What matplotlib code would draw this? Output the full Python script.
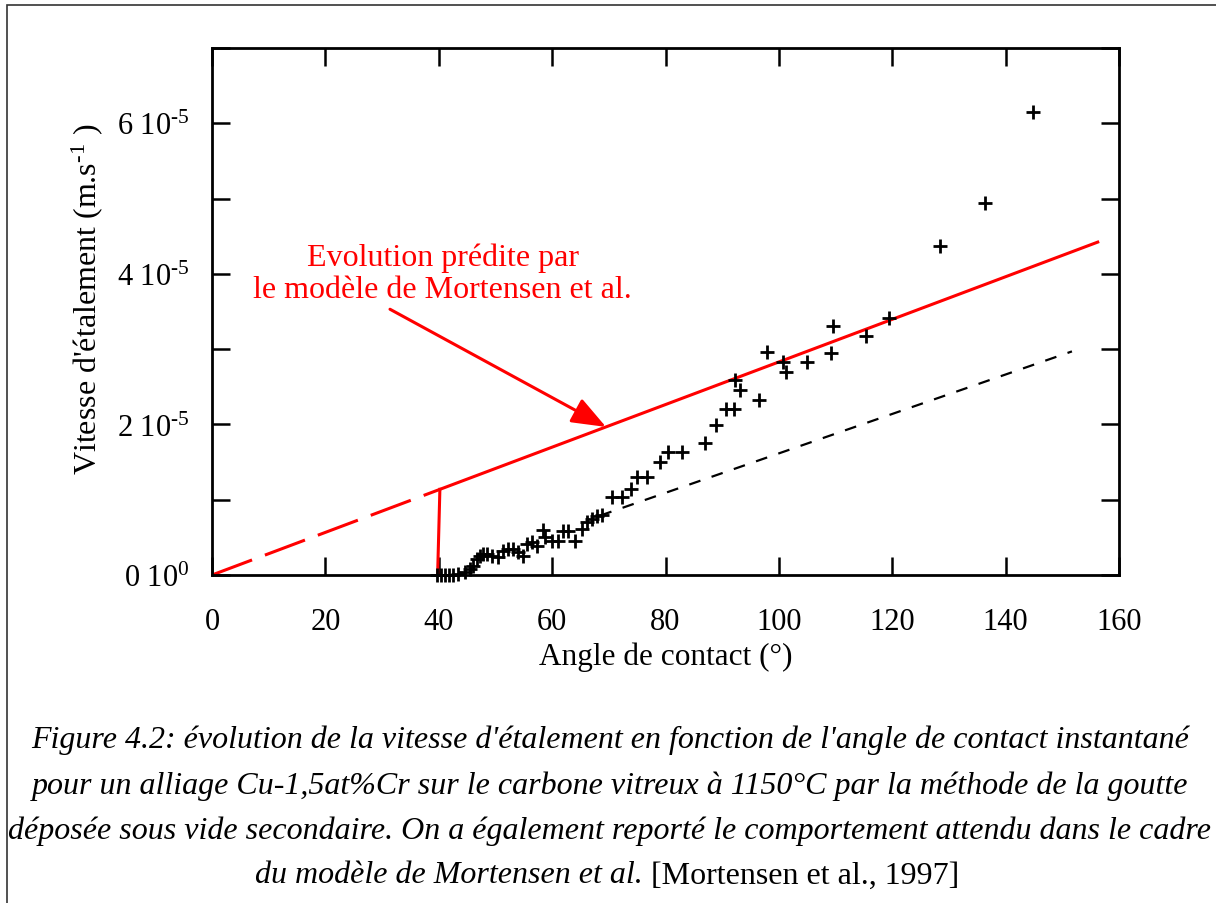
import numpy as np
import matplotlib
matplotlib.use("Agg")
import matplotlib.pyplot as plt
from matplotlib.ticker import MultipleLocator, FuncFormatter
from matplotlib.patches import Rectangle

plt.rcParams["font.family"] = ["Liberation Serif", "DejaVu Serif"]
plt.rcParams["mathtext.fontset"] = "custom"
plt.rcParams["mathtext.rm"] = "Liberation Serif"
plt.rcParams["mathtext.it"] = "Liberation Serif:italic"
plt.rcParams["mathtext.default"] = "regular"

# Measured spreading velocity vs instantaneous contact angle (velocity in 1e-5 m/s)
angle_deg = [39.7, 40.4, 41.1, 41.8, 42.5, 43.4, 44.6, 45.5, 46.0, 46.7,
             47.3, 47.8, 48.5, 49.4, 50.4, 51.3, 52.2, 53.1, 54.0, 54.9,
             55.6, 56.4, 57.3, 58.4, 58.7, 60.0, 61.0, 61.9, 62.8, 64.0,
             65.3, 66.1, 67.0, 67.9, 68.8, 70.6, 72.3, 73.9, 75.0, 76.7,
             79.0, 80.4, 82.9, 87.0, 88.9, 90.7, 92.1, 92.3, 93.1, 96.5,
             97.9, 100.7, 101.3, 105.0, 109.2, 109.5, 115.4, 119.4, 128.4,
             136.4, 144.8]
velocity_e5 = [0.00, 0.00, 0.00, 0.00, 0.00, 0.01, 0.04, 0.08, 0.12, 0.21,
               0.25, 0.28, 0.28, 0.25, 0.24, 0.32, 0.35, 0.35, 0.31, 0.25,
               0.41, 0.44, 0.38, 0.60, 0.50, 0.45, 0.45, 0.58, 0.58, 0.45,
               0.61, 0.70, 0.74, 0.78, 0.80, 1.04, 1.04, 1.14, 1.30, 1.30,
               1.50, 1.63, 1.63, 1.75, 1.99, 2.20, 2.20, 2.59, 2.46, 2.32,
               2.96, 2.83, 2.69, 2.83, 2.95, 3.31, 3.17, 3.42, 4.37,
               4.94, 6.15]

# Mortensen et al. model: velocity proportional to contact angle
model_slope = 2.83e-7          # m/s per degree
model_dashed_deg = [0.0, 40.2]
model_solid_deg = [40.2, 156.5]
threshold_deg = [40.2, 39.8]

# Linear trend through the early data
trend_deg = [68.5, 151.7]
trend_e5 = [0.79, 2.97]

x_ticks = [0, 20, 40, 60, 80, 100, 120, 140, 160]

angle = np.array(angle_deg)
velocity = np.array(velocity_e5) * 1e-5

fig = plt.figure(figsize=(12.16, 9.04), dpi=100)
W, H = 1216, 904
ax = fig.add_axes([212 / W, (H - 576) / H, (1119 - 212) / W, (576 - 49) / H])

red = "#ff0000"
md = np.array(model_dashed_deg)
ms_ = np.array(model_solid_deg)
ax.plot(md, model_slope * md, color=red, lw=2.2, dashes=(14, 4.5), clip_on=False)
ax.plot(ms_, model_slope * ms_, color=red, lw=2.2, solid_capstyle="butt", clip_on=False)
th = np.array(threshold_deg)
ax.plot(th, [model_slope * th[0], 0.0], color=red, lw=2.2, clip_on=False)

ax.plot(trend_deg, np.array(trend_e5) * 1e-5, color="black", lw=1.6,
        dashes=(5.3, 5.3))

ax.plot(angle, velocity, linestyle="none", marker="+", markersize=10,
        markeredgewidth=2.0, color="black", clip_on=False, zorder=5)

ax.set_xlim(0, 160)
ax.set_ylim(0, 7e-5)
ax.set_xticks(x_ticks)
ax.yaxis.set_major_locator(MultipleLocator(1e-5))


def ylab(v, pos):
    n = int(round(v * 1e5))
    if n == 0:
        return r"0 10$^{0}$"
    if n % 2:
        return ""
    return r"%d 10$^{\text{-5}}$" % n


ax.yaxis.set_major_formatter(FuncFormatter(ylab))
ax.tick_params(axis="both", direction="in", length=13, width=1.8,
               top=True, right=True, labelsize=22, color="black")
ax.tick_params(axis="x", pad=23)
ax.tick_params(axis="y", pad=16)
for s in ax.spines.values():
    s.set_linewidth(2.0)

ax.set_xlabel("Angle de contact (°)", fontsize=22.5, labelpad=4)
ax.set_ylabel(r"Vitesse d'étalement (m.s$^{\text{-1}}$ )", fontsize=23)
ax.yaxis.set_label_coords(-0.118, 0.524)

# model annotation
ax.text(40.7, 4.01e-5, "Evolution prédite par\nle modèle de Mortensen et al.",
        color=red, fontsize=23, ha="center", va="center", linespacing=1.12)
ax.annotate("", xy=(69.5, model_slope * 69.5), xytext=(31.4, 3.53e-5),
            arrowprops=dict(arrowstyle="-|>,head_length=0.7,head_width=0.27",
                            mutation_scale=30, color=red, lw=2.2,
                            shrinkA=0, shrinkB=0))

# caption
cap_lines = [
    "Figure 4.2: évolution de la vitesse d'étalement en fonction de l'angle de contact instantané",
    "pour un alliage Cu-1,5at%Cr sur le carbone vitreux à 1150°C par la méthode de la goutte",
    "déposée sous vide secondaire. On a également reporté le comportement attendu dans le cadre",
]
cap_y = [740, 786, 831]
for txt, yy in zip(cap_lines, cap_y):
    fig.text(610 / W, 1 - yy / H, txt, fontsize=23, style="italic",
             ha="center", va="center")

t_it = fig.text(0, 1 - 876 / H, "du modèle de Mortensen et al.", fontsize=23,
                style="italic", ha="left", va="center")
t_rm = fig.text(0, 1 - 876 / H, " [Mortensen et al., 1997]", fontsize=23,
                ha="left", va="center")
fig.canvas.draw()
r = fig.canvas.get_renderer()
w1 = t_it.get_window_extent(r).width
w2 = t_rm.get_window_extent(r).width
x0 = 607 - (w1 + w2) / 2
t_it.set_x(x0 / W)
t_rm.set_x((x0 + w1) / W)

# outer frame
fig.patches.append(Rectangle((7 / W, -0.1), 1.2, 1 - 6 / H + 0.1,
                             transform=fig.transFigure, fill=False,
                             edgecolor="#333333", lw=1.2))

fig.savefig("out.png", dpi=100)
